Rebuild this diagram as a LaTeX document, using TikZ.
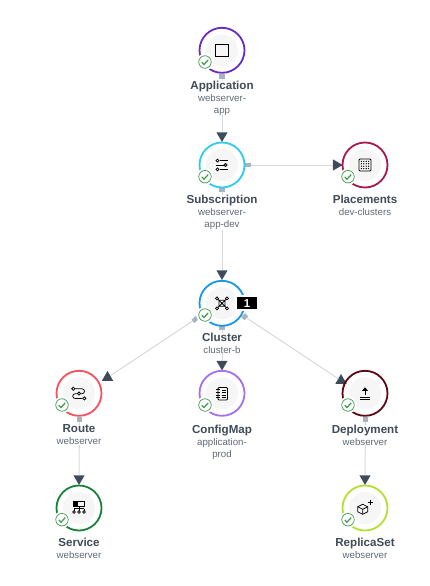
\documentclass[tikz,border=0pt]{standalone}
\usepackage{fontspec}
\setmainfont{Liberation Sans}
\usetikzlibrary{positioning, shapes.geometric}
\definecolor{linkgray}{HTML}{D6D9DC}
\definecolor{portgray}{HTML}{A9B4C0}
\definecolor{headgray}{HTML}{3E4C59}
\definecolor{titlegray}{HTML}{3F4B57}
\definecolor{subgray}{HTML}{5F6A75}
\definecolor{discgray}{HTML}{F6F6F6}
\definecolor{okgreen}{HTML}{3D9A4B}
\definecolor{appring}{HTML}{6A2BC4}
\definecolor{subring}{HTML}{2FCBEA}
\definecolor{placering}{HTML}{A8174F}
\definecolor{clusterring}{HTML}{1A97E6}
\definecolor{routering}{HTML}{F5515F}
\definecolor{configring}{HTML}{A66EF0}
\definecolor{deployring}{HTML}{5A0A14}
\definecolor{servicering}{HTML}{17823A}
\definecolor{replicaring}{HTML}{B2E033}
\newcommand{\nameline}[1]{\textcolor{titlegray}{\fontsize{11.6}{12}\selectfont\bfseries #1}}
\tikzset{
    ring/.style={circle, line width=1.8pt, minimum size=45pt, inner sep=0pt},
    badge/.style={circle, draw=okgreen, fill=white, line width=0.7pt, minimum size=12.5pt, inner sep=0pt},
    halo/.style={circle, fill=white, minimum size=17pt, inner sep=0pt},
    port/.style={rectangle, fill=portgray, minimum width=5.5pt, minimum height=4.5pt, inner sep=0pt},
    head/.style={regular polygon, regular polygon sides=3, fill=headgray, minimum size=13pt, inner sep=0pt},
    link/.style={linkgray, line width=1pt},
    caption/.style={fill=white, inner sep=0pt, align=center, text=subgray, font=\fontsize{9.7}{12}\selectfont},
    icon/.style={black, line width=0.75pt},
    okmark/.style={okgreen, line width=1.2pt}
}
\begin{document}
\begin{tikzpicture}[x=1pt, y=-1pt]
    \useasboundingbox (0,0) rectangle (430,586);

    % tails and heads of the links
    \node[port] (appOut) at (222,76.7) {};
    \node[port] (subOut) at (222,190) {};
    \node[port] (subSide) at (248,165) {};
    \node[port] (clusterOut) at (222,327.7) {};
    \node[port, rotate=45] (clusterLeft) at (195,319.5) {};
    \node[port, rotate=45] (clusterRight) at (244.7,316.7) {};
    \node[port] (routeOut) at (79.5,419.3) {};
    \node[port] (deployOut) at (365.5,419.3) {};

    \node[head, shape border rotate=180] (subIn) at (222,135.5) {};
    \node[head, shape border rotate=-90] (placeIn) at (336.2,165) {};
    \node[head, shape border rotate=180] (clusterIn) at (222,273.5) {};
    \node[head, shape border rotate=180] (configIn) at (222,364) {};
    \node[head] (routeIn) at (107.5,377.5) {};
    \node[head] (deployIn) at (341,380.5) {};
    \node[head, shape border rotate=180] (serviceIn) at (79,478.5) {};
    \node[head, shape border rotate=180] (replicaIn) at (365,478.5) {};

    \draw[link] (appOut) -- (subIn);
    \draw[link] (subOut) -- (clusterIn);
    \draw[link] (subSide) -- (placeIn);
    \draw[link] (clusterOut) -- (configIn);
    \draw[link] (clusterLeft) -- (routeIn);
    \draw[link] (clusterRight) -- (deployIn);
    \draw[link] (routeOut) -- (serviceIn);
    \draw[link] (deployOut) -- (replicaIn);

    % rings with their status badge
    \foreach \name/\x/\y/\col in {app/222/50.3/appring, sub/222/165/subring, place/365/165/placering,
        cluster/222/303.3/clusterring, route/79/393.3/routering, config/222/393.3/configring,
        deploy/365/393.3/deployring, service/79/508/servicering, replica/365/508/replicaring} {
        \node[ring, draw=\col] (\name) at (\x,\y) {};
        \fill[discgray] (\name) circle (16);
        \node[halo] (\name Halo) at (\x-17,\y+11.7) {};
        \node[badge] (\name Ok) at (\x-17,\y+11.7) {};
        \draw[okmark] ([shift={(-3.2,0.2)}]\name Ok.center) -- ++(2.2,2.3) -- ++(4.2,-4.6);
    }

    \node[fill=black, draw=white, line width=2pt, minimum width=22pt, minimum height=14.5pt, inner sep=0pt,
        text=white, font=\fontsize{11.5}{12}\selectfont\bfseries] (clusterTag) at (247,303.2) {1};

    % captions
    \node[caption, below=7pt of app] (appText) {\nameline{Application}\\webserver-\\app};
    \node[caption, below=6.5pt of sub] (subText) {\nameline{Subscription}\\webserver-\\app-dev};
    \node[caption, below=6pt of place] (placeText) {\nameline{Placements}\\dev-clusters};
    \node[caption, below=6pt of cluster] (clusterText) {\nameline{Cluster}\\cluster-b};
    \node[caption, below=8pt of route] (routeText) {\nameline{Route}\\webserver};
    \node[caption, below=8pt of config] (configText) {\nameline{ConfigMap}\\application-\\prod};
    \node[caption, below=8pt of deploy] (deployText) {\nameline{Deployment}\\webserver};
    \node[caption, below=6pt of service] (serviceText) {\nameline{Service}\\webserver};
    \node[caption, below=6pt of replica] (replicaText) {\nameline{ReplicaSet}\\webserver};

    % icons
    \begin{scope}[shift={(app)}, icon]
        \draw (-6.5,-6.2) rectangle (6.5,6.5);
        \draw[line width=1.3pt] (-6.5,-6) -- (3,-6);
    \end{scope}
    \begin{scope}[shift={(sub)}, icon]
        \draw (-4.5,-4.3) circle (1.5) (-4.5,4.3) circle (1.5) (3.5,0) circle (1.5);
        \draw (-2,-4.3) -- (6,-4.3) (-6,0) -- (1.5,0) (-2,4.3) -- (6,4.3);
    \end{scope}
    \begin{scope}[shift={(place)}, icon]
        \draw[rounded corners=1pt] (-6,-6) rectangle (6,6);
        \foreach \i in {-3.6,-1.2,1.2,3.6}
            \foreach \j in {-3.6,-1.2,1.2,3.6}
                \fill (\i,\j) circle (0.7);
    \end{scope}
    \begin{scope}[shift={(cluster)}, icon]
        \draw (-5,-5) -- (5,5) (5,-5) -- (-5,5) (-3,-3) -- (3,-3) -- (3,3) -- (-3,3) -- cycle;
        \foreach \i/\j in {-5/-5, 5/-5, -5/5, 5/5}
            \filldraw[fill=white] (\i,\j) circle (1.5);
        \fill (0,0) circle (1.2);
    \end{scope}
    \begin{scope}[shift={(route)}, icon]
        \draw (-4,-4.5) -- (3,-4.5) arc (-90:90:2.5) -- (2,0.5);
        \draw (-2,0.5) -- (-4,0.5) arc (-90:-270:2.3) -- (3,5.1);
        \filldraw[fill=white] (-5.7,-4.5) circle (1.6);
        \filldraw[fill=white] (0,0.3) circle (1.6);
        \filldraw[fill=white] (5.3,5.1) circle (1.6);
    \end{scope}
    \begin{scope}[shift={(config)}, icon]
        \draw[rounded corners=1pt] (-4,-5.8) rectangle (5.5,6.7);
        \draw (-6,-3.5) -- (-2.5,-3.5) (-6,-0.8) -- (-2.5,-0.8) (-6,1.8) -- (-2.5,1.8) (-6,4.5) -- (-2.5,4.5);
        \draw (-0.5,-3) -- (3.5,-3) (-0.5,-0.5) -- (3.5,-0.5) (-0.5,2) -- (3.5,2) (-0.5,4.5) -- (3.5,4.5);
    \end{scope}
    \begin{scope}[shift={(deploy)}, icon]
        \draw[line width=1pt] (0,1.5) -- (0,-3);
        \fill (0,-6) -- (3,-2.5) -- (-3,-2.5) -- cycle;
        \draw[line width=1pt] (-4.7,3.8) -- (4.7,3.8) (-4.7,6.5) -- (4.7,6.5);
    \end{scope}
    \begin{scope}[shift={(service)}, icon]
        \draw (-5.5,-6.3) rectangle (5.5,-1.5);
        \fill (-5.5,-6.3) rectangle (-1,-1.5);
        \draw (0,-1.5) -- (0,3) (-5,0.8) -- (5,0.8) (-5,0.8) -- (-5,3) (5,0.8) -- (5,3);
        \foreach \i in {-5,0,5}
            \filldraw[fill=white] (\i,4) circle (1.3);
    \end{scope}
    \begin{scope}[shift={(replica)}, icon]
        \draw[line join=round] (-2.3,-3.7) -- (2.7,-1.2) -- (2.7,3.8) -- (-2.3,6.3) -- (-7.3,3.8) -- (-7.3,-1.2) -- cycle;
        \draw (-7.3,-1.2) -- (-2.3,1.3) -- (2.7,-1.2) (-2.3,1.3) -- (-2.3,6.3);
        \draw (5,-7.8) -- (5,-2.8) (2.5,-5.3) -- (7.5,-5.3);
    \end{scope}
\end{tikzpicture}
\end{document}
